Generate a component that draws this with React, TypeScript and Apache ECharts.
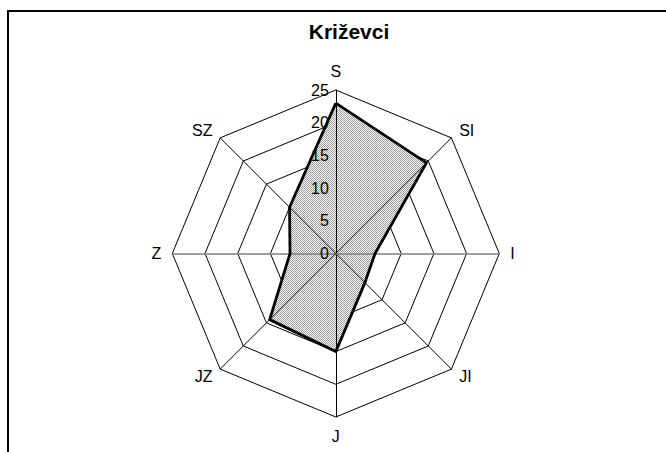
import React, { useEffect, useRef } from "react";
import * as echarts from "echarts";

// Directions in counter-clockwise order starting from the top (ECharts radar order)
const directions = ["S", "SZ", "Z", "JZ", "J", "JI", "I", "SI"];
const values = [23, 10, 7, 14.3, 15, 6.3, 6, 19.6];
const titleText = "Križevci";
const maxValue = 25;
const splitCount = 5;
const grayAxes = ["Z", "I"];
const labelAxis = "S";

const FONT = "'Liberation Sans', Arial, sans-serif";

export default function App() {
  const ref = useRef<HTMLDivElement>(null);
  useEffect(() => {
    if (!ref.current) return;
    const chart = echarts.init(ref.current, undefined, { renderer: "svg" });

    const cv = document.createElement("canvas");
    cv.width = 2;
    cv.height = 2;
    const ctx = cv.getContext("2d")!;
    ctx.fillStyle = "#f8f8f8";
    ctx.fillRect(0, 0, 2, 2);
    ctx.fillStyle = "#9e9e9e";
    ctx.fillRect(0, 0, 1, 1);
    ctx.fillRect(1, 1, 1, 1);

    const center = [335.8, 253.5];
    const radius = 163.5;

    const baseIndicators = directions.map((d) => ({
      name: d,
      min: 0,
      max: maxValue,
      color: "#000",
    }));

    const topIndicators = directions.map((d) => ({
      name: d,
      min: 0,
      max: maxValue,
      color: "#000",
      axisLine: grayAxes.includes(d)
        ? { lineStyle: { color: "#808080", width: 1.6 } }
        : { lineStyle: { color: "#000", width: 1 } },
      axisLabel: { show: d === labelAxis },
    }));

    const lineStyle = { color: "#000", width: 2.8 };

    chart.setOption({
      animation: false,
      backgroundColor: "#fff",
      title: {
        text: titleText,
        left: 344,
        top: 16,
        textAlign: "center",
        textStyle: {
          fontSize: 21,
          fontWeight: "bold",
          fontFamily: FONT,
          color: "#000",
        },
      },
      graphic: [
        {
          type: "rect",
          shape: { x: 8, y: 11, width: 720, height: 520 },
          style: { fill: "none", stroke: "#000", lineWidth: 2 },
          z: 10,
        },
      ],
      radar: [
        {
          center,
          radius,
          startAngle: 90,
          shape: "polygon",
          splitNumber: splitCount,
          indicator: baseIndicators,
          axisName: {
            color: "#000",
            fontSize: 16,
            fontFamily: FONT,
          },
          nameGap: 11,
          splitLine: { show: true, lineStyle: { color: "#000", width: 1 } },
          splitArea: { show: false },
          axisLine: { show: false },
          axisTick: { show: false },
          axisLabel: { show: false },
          z: 0,
        },
        {
          center,
          radius,
          startAngle: 90,
          shape: "polygon",
          splitNumber: splitCount,
          indicator: topIndicators,
          axisName: { show: false },
          splitLine: { show: false },
          splitArea: { show: false },
          axisLine: { show: true, lineStyle: { color: "#000", width: 1 } },
          axisTick: { show: false },
          axisLabel: {
            show: false,
            color: "#000",
            fontSize: 16,
            fontFamily: FONT,
            margin: 7,
          },
          z: 5,
        },
      ],
      series: [
        {
          type: "radar",
          radarIndex: 0,
          symbol: "none",
          z: 2,
          lineStyle: { width: 0, opacity: 0 },
          areaStyle: {
            color: {
              image: cv,
              repeat: "repeat",
              imageWidth: 2,
              imageHeight: 2,
            },
            opacity: 1,
          },
          data: [{ value: values, name: titleText }],
        },
        {
          type: "radar",
          radarIndex: 0,
          symbol: "none",
          z: 6,
          lineStyle,
          data: [{ value: values, name: titleText, lineStyle }],
        },
      ],
    });

    return () => chart.dispose();
  }, []);

  return (
    <div
      ref={ref}
      style={{ position: "fixed", left: 0, top: 0, width: 666, height: 452 }}
    />
  );
}
